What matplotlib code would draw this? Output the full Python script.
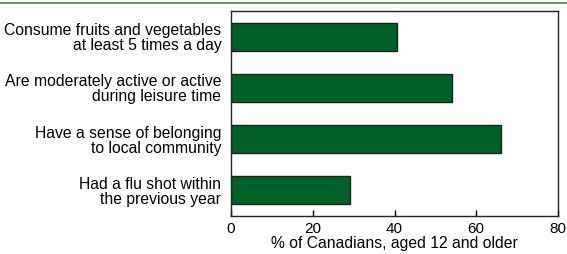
import matplotlib

matplotlib.use("Agg")
import matplotlib.pyplot as plt  # noqa: E402
from matplotlib.lines import Line2D  # noqa: E402

# Data
categories = [
    "Consume fruits and vegetables\nat least 5 times a day",
    "Are moderately active or active\nduring leisure time",
    "Have a sense of belonging\nto local community",
    "Had a flu shot within\nthe previous year",
]
values = [40.6, 54.1, 66.1, 29.0]
xticks = [0, 20, 40, 60, 80]
xlabel = "% of Canadians, aged 12 and older"

plt.rcParams["font.family"] = ["Liberation Sans", "DejaVu Sans"]

W, H = 567, 254
fig = plt.figure(figsize=(W / 100, H / 100), dpi=100)
# axes box in pixels: left 231, right 558, top 11, bottom 216
ax = fig.add_axes([231 / W, 1 - 216 / H, (558 - 231) / W, (216 - 11) / H])

ypos = list(range(len(categories)))
ax.barh(ypos, values, height=0.55, color="#006028", edgecolor="#1f1f1f", linewidth=1.0)
ax.set_ylim(len(categories) - 0.5, -0.5)
ax.set_xlim(0, 80)
ax.set_yticks(ypos)
ax.set_yticklabels(categories, fontsize=11.3, linespacing=1.0, ha="right")
ax.tick_params(axis="y", length=0, pad=7)
ax.set_xticks(xticks)
ax.set_xticklabels([str(t) for t in xticks], fontsize=11)
ax.tick_params(axis="x", direction="in", length=4, width=1, pad=4.5)
ax.set_xlabel(xlabel, fontsize=11.3, labelpad=0)
for s in ax.spines.values():
    s.set_linewidth(1.0)
    s.set_color("#222222")

# thin green rule across the top of the figure
fig.add_artist(Line2D([0, 1], [1 - 2.5 / H, 1 - 2.5 / H], transform=fig.transFigure,
                      color="#3a8a4a", linewidth=1.2))

fig.savefig("out.png", dpi=100)
